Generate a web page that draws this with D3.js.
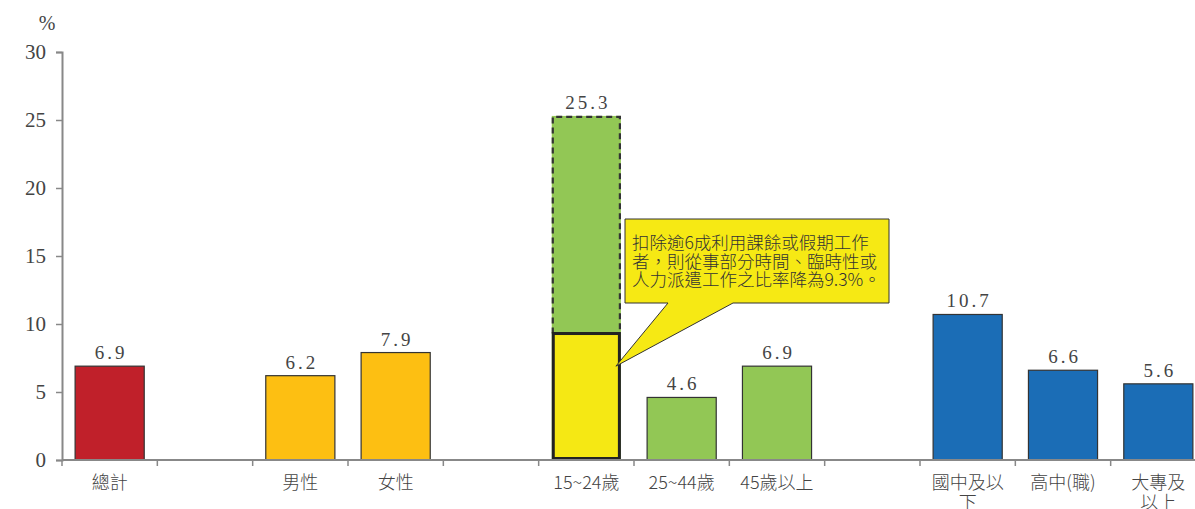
<!DOCTYPE html>
<html>
<head>
<meta charset="utf-8">
<script src="https://cdn.jsdelivr.net/npm/d3@7"></script>
<style>
  body { margin: 0; background: #fff; }
  svg { display: block; }
</style>
</head>
<body>
<div id="chart"></div>
<script>
// slots along the x axis, blanks are the gaps between groups
var slots = ['總計', 'g1', '男性', '女性', 'g2', '15~24歲', '25~44歲', '45歲以上', 'g3', '國中及以下', '高中(職)', '大專及以上'];
var labelLines = [['總計'], [], ['男性'], ['女性'], [], ['15~24歲'], ['25~44歲'], ['45歲以上'], [], ['國中及以', '下'], ['高中(職)'], ['大專及', '以上']];
var values = [6.9, null, 6.2, 7.9, null, 25.3, 4.6, 6.9, null, 10.7, 6.6, 5.6];
var groups = ['total', null, 'sex', 'sex', null, 'age', 'age', 'age', null, 'edu', 'edu', 'edu'];
var excluded = 9.3;   // 15~24 after removing students with after-class / holiday jobs
var yTicks = [0, 5, 10, 15, 20, 25, 30];
var noteLines = ['扣除逾6成利用課餘或假期工作', '者，則從事部分時間、臨時性或', '人力派遣工作之比率降為9.3%。'];

var colors = { total: '#C0202A', sex: '#FDBF12', age: '#92C755', edu: '#1B6DB6' };

var W = 1195, H = 509;
var svg = d3.select('#chart').append('svg').attr('width', W).attr('height', H);

var x = d3.scaleBand().domain(slots).range([62, 1206]).paddingInner(0.275).paddingOuter(0.1375);
var y = d3.scaleLinear().domain([0, 30]).range([460, 52]);

var rows = slots.map(function(s, i) { return { key: s, v: values[i], g: groups[i], lines: labelLines[i] }; });
var bars = rows.filter(function(d) { return d.v != null; });

// bars
svg.selectAll('.bar').data(bars).enter().append('rect')
  .attr('class', 'bar')
  .attr('x', function(d) { return x(d.key); })
  .attr('y', function(d) { return y(d.v); })
  .attr('width', x.bandwidth())
  .attr('height', function(d) { return y(0) - y(d.v); })
  .attr('fill', function(d) { return colors[d.g]; })
  .attr('stroke', function(d) { return d.key == '15~24歲' ? 'none' : '#333'; })
  .attr('stroke-width', 1.2);

// dashed outline on the full 15~24 bar, solid yellow part for the 9.3
var k = '15~24歲';
svg.append('path')
  .attr('d', 'M' + (x(k) + 1) + ',' + y(excluded) + 'V' + (y(25.3) + 1) + 'H' + (x(k) + x.bandwidth() - 1) + 'V' + y(excluded))
  .attr('fill', 'none').attr('stroke', '#333').attr('stroke-width', 2.2).attr('stroke-dasharray', '6,4');
svg.append('rect')
  .attr('x', x(k) + 1.5).attr('y', y(excluded))
  .attr('width', x.bandwidth() - 3).attr('height', y(0) - y(excluded) - 1.5)
  .attr('fill', '#F5E814').attr('stroke', '#222').attr('stroke-width', 3);

// value labels
svg.selectAll('.val').data(bars).enter().append('text')
  .attr('x', function(d) { return x(d.key) + x.bandwidth() / 2 + 1.5; })
  .attr('y', function(d) { return y(d.v) - 7; })
  .attr('text-anchor', 'middle')
  .attr('font-family', 'Liberation Serif, serif')
  .attr('font-size', 19)
  .attr('letter-spacing', 3)
  .attr('fill', '#444')
  .text(function(d) { return d.v.toFixed(1); });

// y axis
var yAxis = svg.append('g').attr('transform', 'translate(62,0)')
  .call(d3.axisLeft(y).tickValues(yTicks).tickSize(6).tickPadding(10));
yAxis.select('.domain').attr('stroke', '#888').attr('stroke-width', 2);
yAxis.selectAll('.tick line').attr('stroke', '#888').attr('stroke-width', 1.5);
yAxis.selectAll('.tick text').attr('font-family', 'Liberation Serif, serif').attr('font-size', 21).attr('fill', '#444');

svg.append('text').attr('x', 47).attr('y', 30).attr('text-anchor', 'middle')
  .attr('font-family', 'Liberation Serif, serif').attr('font-size', 20).attr('fill', '#444').text('%');

// x axis with ticks on slot boundaries
var bounds = d3.range(slots.length + 1).map(function(i) { return 62 + i * x.step(); });
svg.append('line').attr('x1', 62).attr('x2', W).attr('y1', y(0)).attr('y2', y(0))
  .attr('stroke', '#888').attr('stroke-width', 2);
svg.selectAll('.xt').data(bounds).enter().append('line')
  .attr('x1', function(d) { return d; }).attr('x2', function(d) { return d; })
  .attr('y1', y(0)).attr('y2', y(0) + 6)
  .attr('stroke', '#888').attr('stroke-width', 1.5);

// category labels
var cat = svg.selectAll('.cat').data(rows).enter().append('text')
  .attr('x', function(d) { return x(d.key) + x.bandwidth() / 2; })
  .attr('y', 489)
  .attr('text-anchor', 'middle')
  .attr('font-family', 'Noto Sans CJK TC, sans-serif')
  .attr('font-size', 18)
  .attr('font-weight', 300)
  .attr('fill', '#444');
cat.selectAll('tspan').data(function(d) { return d.lines; }).enter().append('tspan')
  .attr('x', function() { var p = d3.select(this.parentNode).datum(); return x(p.key) + x.bandwidth() / 2; })
  .attr('dy', function(d, i) { return i == 0 ? 0 : 20; })
  .text(function(d) { return d; });

// callout
var bx = 625, by = 219, bw = 264, bh = 84;
var tip = [x(k) + x.bandwidth() - 5, y(6.9)];
svg.append('path')
  .attr('d', 'M' + bx + ',' + by + 'H' + (bx + bw) + 'V' + (by + bh) + 'H733L' + tip[0] + ',' + tip[1] + 'L668,' + (by + bh) + 'H' + bx + 'Z')
  .attr('fill', '#F6E914').attr('stroke', '#333').attr('stroke-width', 1);
svg.append('text')
  .attr('font-family', 'Noto Sans CJK TC, sans-serif')
  .attr('font-size', 17.5)
  .attr('font-weight', 300)
  .attr('fill', '#333')
  .selectAll('tspan').data(noteLines).enter().append('tspan')
  .attr('x', bx + 7)
  .attr('y', function(d, i) { return by + 30 + i * 18.5; })
  .text(function(d) { return d; });
</script>
</body>
</html>
